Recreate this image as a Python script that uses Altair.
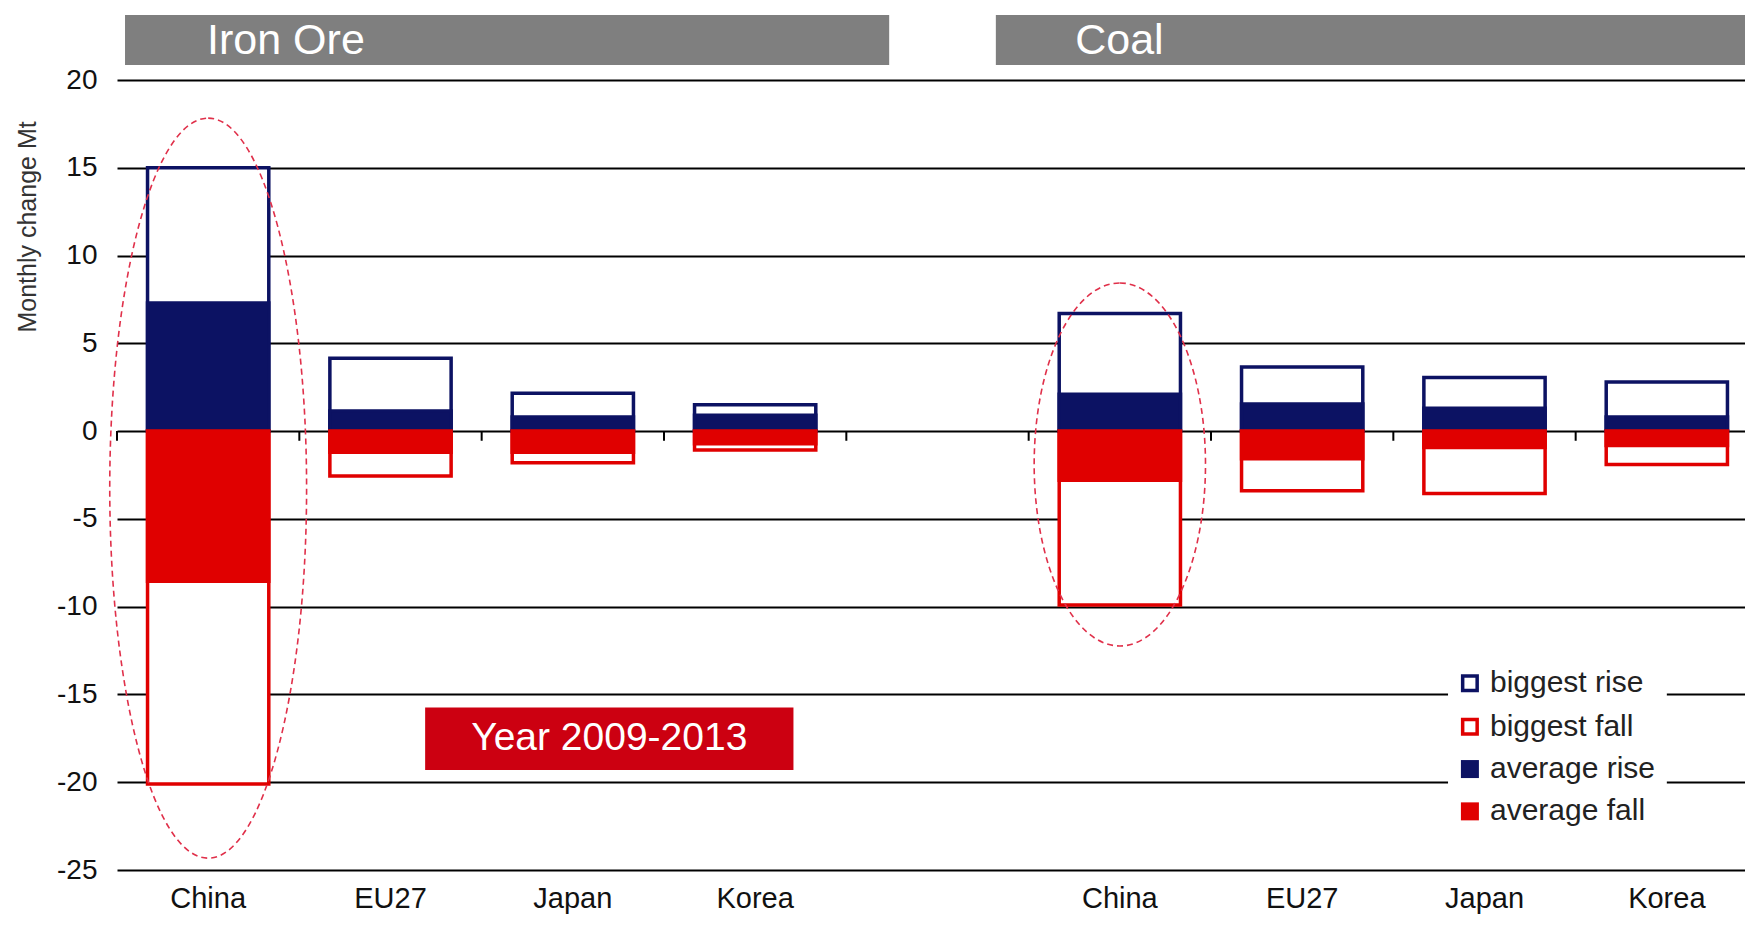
import altair as alt
import pandas as pd

# ---------------- data ----------------
categories = ["China", "EU27", "Japan", "Korea"]
groups = ["Iron Ore", "Coal"]

iron_biggest_rise = [15.0, 4.15, 2.15, 1.5]
iron_average_rise = [7.3, 1.15, 0.8, 0.9]
iron_average_fall = [-8.55, -1.2, -1.2, -0.72]
iron_biggest_fall = [-20.1, -2.55, -1.8, -1.08]

coal_biggest_rise = [6.7, 3.65, 3.05, 2.8]
coal_average_rise = [2.1, 1.55, 1.3, 0.8]
coal_average_fall = [-2.8, -1.57, -0.93, -0.82]
coal_biggest_fall = [-9.9, -3.4, -3.55, -1.9]

y_ticks = [-25, -20, -15, -10, -5, 0, 5, 10, 15, 20]
legend_labels = ["biggest rise", "biggest fall", "average rise", "average fall"]

# ---------------- styles ----------------
NAVY = "#0c1263"
RED = "#e00000"
BOXRED = "#cc0011"
GREY = "#7f7f7f"
FONT = "Liberation Sans, Arial, sans-serif"
SW = 3.5

slots = [f"Iron Ore|{c}" for c in categories] + ["gap"] + [f"Coal|{c}" for c in categories]

rows = []
series = {
    "Iron Ore": [iron_biggest_rise, iron_average_rise, iron_average_fall, iron_biggest_fall],
    "Coal": [coal_biggest_rise, coal_average_rise, coal_average_fall, coal_biggest_fall],
}
kinds = ["biggest rise", "average rise", "average fall", "biggest fall"]
for g in groups:
    for kind, vals in zip(kinds, series[g]):
        for c, v in zip(categories, vals):
            rows.append({"slot": f"{g}|{c}", "kind": kind, "value": v})
bars = pd.DataFrame(rows)

W, H = 1628, 790
XR = 1641  # 9 category slots; the last one runs slightly past the visible width
yscale = alt.Scale(domain=[-25, 20], nice=False, zero=False)
xband = alt.Scale(domain=slots, paddingInner=0, paddingOuter=0, range=[0, XR])
xq = alt.Scale(domain=[0, 9], nice=False, zero=False, range=[0, XR])

base = alt.Chart(bars)


def bar_layer(kind, fill, stroke, first=False):
    if first:
        xenc = alt.X(
            "slot:N", scale=xband, sort=slots, title=None,
            axis=alt.Axis(
                labelExpr="indexof(datum.value, '|') >= 0 ? split(datum.value, '|')[1] : ''",
                labelFont=FONT, labelFontSize=29, labelColor="#111",
                labelBaseline="alphabetic", labelPadding=37, labelAngle=0,
                domain=False, ticks=False, tickSize=0, grid=False,
            ),
        )
        yenc = alt.Y(
            "value:Q", scale=yscale, title=None,
            axis=alt.Axis(
                values=y_ticks, grid=True, gridColor="black", gridWidth=2, gridOpacity=1,
                domain=False, ticks=False, tickSize=0, orient="left",
                labelExpr="toString(datum.value)",
                labelFont=FONT, labelFontSize=28, labelColor="#111", labelPadding=20,
            ),
        )
    else:
        xenc = alt.X("slot:N", scale=xband, sort=slots, axis=None)
        yenc = alt.Y("value:Q", scale=yscale, axis=None)
    return base.transform_filter(alt.datum.kind == kind).mark_bar(
        fill=fill, stroke=stroke, strokeWidth=SW, width=alt.RelativeBandSize(0.665)
    ).encode(x=xenc, y=yenc, y2=alt.datum(0))


l_brise = bar_layer("biggest rise", "white", NAVY, first=True)
l_bfall = bar_layer("biggest fall", "white", RED)
l_arise = bar_layer("average rise", NAVY, NAVY)
l_afall = bar_layer("average fall", RED, RED)

# small ticks on the zero line at category boundaries
ticks = alt.Chart(pd.DataFrame({"slot": slots, "y0": [0] * 9, "y1": [-0.55] * 9})).mark_rule(
    color="black", strokeWidth=2).encode(
    x=alt.X("slot:N", scale=xband, sort=slots, bandPosition=0, axis=None),
    y=alt.Y("y0:Q", scale=yscale, axis=None),
    y2="y1:Q",
)


def ellipse_path(rx):
    k = 0.5523
    return (f"M0,-1 C{k*rx:.4f},-1 {rx:.4f},{-k:.4f} {rx:.4f},0 "
            f"C{rx:.4f},{k:.4f} {k*rx:.4f},1 0,1 "
            f"C{-k*rx:.4f},1 {-rx:.4f},{k:.4f} {-rx:.4f},0 "
            f"C{-rx:.4f},{-k:.4f} {-k*rx:.4f},-1 0,-1 Z")


ell_iron = alt.Chart(pd.DataFrame({"slot": ["Iron Ore|China"], "yc": [-3.25]})).mark_point(
    shape=ellipse_path(0.266), size=740 ** 2, filled=False, stroke="#e0304a",
    strokeWidth=1.6, strokeDash=[6, 4], opacity=1,
).encode(
    x=alt.X("slot:N", scale=xband, sort=slots, axis=None),
    y=alt.Y("yc:Q", scale=yscale, axis=None),
)
ell_coal = alt.Chart(pd.DataFrame({"slot": ["Coal|China"], "yc": [-1.9]})).mark_point(
    shape=ellipse_path(0.472), size=363 ** 2, filled=False, stroke="#e0304a",
    strokeWidth=1.6, strokeDash=[6, 4], opacity=1,
).encode(
    x=alt.X("slot:N", scale=xband, sort=slots, axis=None),
    y=alt.Y("yc:Q", scale=yscale, axis=None),
)

# header bands
hdr = pd.DataFrame({"x": [0.044, 4.82], "x2": [4.235, 9.2], "y": [20.85, 20.85], "y2": [23.7, 23.7],
                    "label": groups, "tx": [0.494, 5.255], "ty": [22.25, 22.25]})
hdr_rect = alt.Chart(hdr).mark_rect(fill=GREY).encode(
    x=alt.X("x:Q", scale=xq, axis=None), x2="x2:Q",
    y=alt.Y("y:Q", scale=yscale, axis=None), y2="y2:Q",
)
hdr_text = alt.Chart(hdr).mark_text(font=FONT, fontSize=43, color="white", align="left",
                                    baseline="middle").encode(
    x=alt.X("tx:Q", scale=xq, axis=None), y=alt.Y("ty:Q", scale=yscale, axis=None), text="label:N",
)

# year box
yr = pd.DataFrame({"x": [1.69], "x2": [3.71], "y": [-15.75], "y2": [-19.3],
                   "tx": [2.70], "ty": [-17.5], "label": ["Year 2009-2013"]})
yr_rect = alt.Chart(yr).mark_rect(fill=BOXRED).encode(
    x=alt.X("x:Q", scale=xq, axis=None), x2="x2:Q",
    y=alt.Y("y:Q", scale=yscale, axis=None), y2="y2:Q",
)
yr_text = alt.Chart(yr).mark_text(font=FONT, fontSize=39, color="white", align="center",
                                  baseline="middle").encode(
    x=alt.X("tx:Q", scale=xq, axis=None), y=alt.Y("ty:Q", scale=yscale, axis=None), text="label:N",
)

# legend
lg_bg = alt.Chart(pd.DataFrame({"x": [7.30], "x2": [8.50], "y": [-13.2], "y2": [-23.0]})).mark_rect(
    fill="white").encode(
    x=alt.X("x:Q", scale=xq, axis=None), x2="x2:Q",
    y=alt.Y("y:Q", scale=yscale, axis=None), y2="y2:Q",
)
lg = pd.DataFrame({"label": legend_labels, "sx": [7.42] * 4, "tx": [7.53] * 4,
                   "y": [-14.36, -16.84, -19.25, -21.66]})
lg_open_rise = alt.Chart(lg.iloc[[0]]).mark_square(size=210, fill="white", stroke=NAVY, strokeWidth=SW,
                                                   opacity=1).encode(
    x=alt.X("sx:Q", scale=xq, axis=None), y=alt.Y("y:Q", scale=yscale, axis=None))
lg_open_fall = alt.Chart(lg.iloc[[1]]).mark_square(size=210, fill="white", stroke=RED, strokeWidth=SW,
                                                   opacity=1).encode(
    x=alt.X("sx:Q", scale=xq, axis=None), y=alt.Y("y:Q", scale=yscale, axis=None))
lg_fill_rise = alt.Chart(lg.iloc[[2]]).mark_square(size=324, fill=NAVY, opacity=1).encode(
    x=alt.X("sx:Q", scale=xq, axis=None), y=alt.Y("y:Q", scale=yscale, axis=None))
lg_fill_fall = alt.Chart(lg.iloc[[3]]).mark_square(size=324, fill=RED, opacity=1).encode(
    x=alt.X("sx:Q", scale=xq, axis=None), y=alt.Y("y:Q", scale=yscale, axis=None))
lg_text = alt.Chart(lg).mark_text(font=FONT, fontSize=30, color="#222", align="left",
                                  baseline="middle").encode(
    x=alt.X("tx:Q", scale=xq, axis=None), y=alt.Y("y:Q", scale=yscale, axis=None), text="label:N")

# y-axis title as rotated text
ytitle = alt.Chart(pd.DataFrame({"x": [-0.488], "y": [11.63], "t": ["Monthly change Mt"]})).mark_text(
    font=FONT, fontSize=25, color="#333", angle=270, align="center", baseline="middle").encode(
    x=alt.X("x:Q", scale=xq, axis=None), y=alt.Y("y:Q", scale=yscale, axis=None), text="t:N")

chart = alt.layer(
    l_brise, l_bfall, l_arise, l_afall, ticks, ell_iron, ell_coal,
    hdr_rect, hdr_text, yr_rect, yr_text,
    lg_bg, lg_open_rise, lg_open_fall, lg_fill_rise, lg_fill_fall, lg_text, ytitle,
).resolve_scale(x="independent").resolve_axis(y="independent").properties(
    width=W, height=H,
    autosize=alt.AutoSizeParams(type="none"),
    padding={"left": 109, "top": 72, "right": 0, "bottom": 48},
    background="white",
).configure_view(stroke=None)

chart.save("out.html", embed_options={"renderer": "svg", "actions": False})
